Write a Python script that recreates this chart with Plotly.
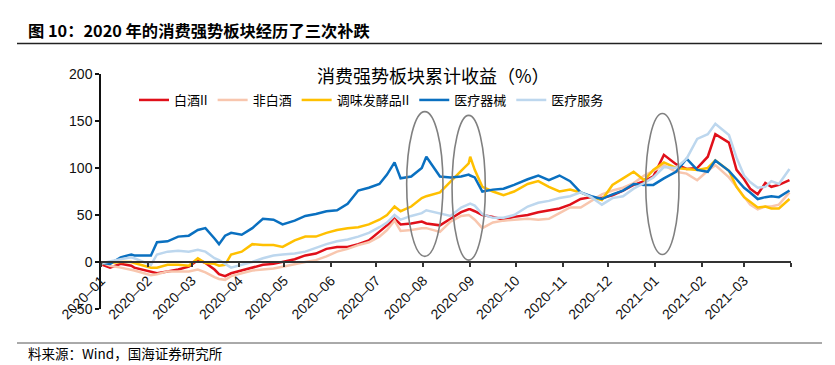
import plotly.graph_objects as go

# ---------------- data ----------------
dates = [
    "2020-01-02", "2020-01-07", "2020-01-14", "2020-01-21", "2020-01-23",
    "2020-02-03", "2020-02-07", "2020-02-14", "2020-02-21", "2020-02-28",
    "2020-03-05", "2020-03-10", "2020-03-16", "2020-03-19", "2020-03-23",
    "2020-03-27", "2020-04-03", "2020-04-10", "2020-04-17", "2020-04-24",
    "2020-04-30", "2020-05-08", "2020-05-15", "2020-05-22", "2020-05-29",
    "2020-06-05", "2020-06-12", "2020-06-19", "2020-06-26", "2020-07-03",
    "2020-07-08", "2020-07-13", "2020-07-17", "2020-07-24", "2020-07-31",
    "2020-08-03", "2020-08-12", "2020-08-19", "2020-08-26", "2020-08-31",
    "2020-09-01", "2020-09-04", "2020-09-09", "2020-09-16", "2020-09-23",
    "2020-09-30", "2020-10-09", "2020-10-16", "2020-10-23", "2020-10-30",
    "2020-11-06", "2020-11-13", "2020-11-20", "2020-11-27", "2020-12-04",
    "2020-12-11", "2020-12-18", "2020-12-25", "2020-12-31", "2021-01-07",
    "2021-01-15", "2021-01-22", "2021-01-29", "2021-02-05", "2021-02-10",
    "2021-02-19", "2021-02-24", "2021-03-01", "2021-03-05", "2021-03-10",
    "2021-03-15", "2021-03-19", "2021-03-24", "2021-03-31",
]

baijiu = [
    -3, -6, -2, -4, -6, -11, -12, -10, -8, -5,
    2, -1, -8, -13, -15, -12, -9, -6, -3, -2,
    0, 3, 7, 9, 14, 16, 16, 19, 23, 32,
    39, 46, 40, 41, 43, 41, 39, 46, 53, 56,
    56, 54, 50, 48, 45, 48, 50, 53, 55, 57,
    61, 67, 69, 68, 71, 76, 82, 86, 91, 114,
    104, 99, 100, 112, 136, 127, 98, 88, 78, 72,
    84, 80, 82, 87,
]

fei_baijiu = [
    -1, -4, -6, -8, -9, -14, -13, -10, -10, -10,
    -8, -11, -16, -18, -19, -15, -12, -9, -8, -7,
    -5, -2, 0, 2, 6, 11, 14, 18, 21, 27,
    34, 44, 33, 34, 36, 36, 32, 43, 49, 50,
    49, 45, 36, 42, 44, 45, 46, 45, 46, 52,
    58, 58, 65, 72, 76, 79, 84, 92, 97, 103,
    96, 94, 87, 97, 103, 90, 80, 70, 61, 56,
    59, 59, 61, 74,
]

tiaowei = [
    -1, -1, 0, 0, -1, -6, -6, -3, -3, -4,
    4, -1, -2, -4, -3, 8, 11, 19, 18, 18,
    16, 23, 27, 27, 31, 34, 36, 37, 40, 45,
    50, 59, 54, 59, 68, 70, 74, 85, 97, 105,
    112, 98, 80, 75, 71, 75, 83, 86, 80, 75,
    77, 74, 69, 66, 82, 89, 96, 87, 98, 106,
    100, 99, 98, 100, 108, 97, 80, 69, 64, 58,
    59, 57, 57, 67,
]

yiliao_qixie = [
    -1, -2, 5, 8, 7, 7, 21, 22, 27, 28,
    34, 36, 25, 19, 28, 31, 29, 36, 46, 45,
    40, 44, 49, 51, 54, 55, 62, 76, 79, 83,
    93, 106, 89, 91, 100, 112, 91, 90, 91, 93,
    92, 90, 75, 77, 78, 82, 88, 92, 87, 92,
    86, 74, 70, 67, 72, 76, 83, 82, 82, 89,
    96, 110, 98, 96, 108, 97, 88, 79, 74, 67,
    69, 70, 69, 76,
]

yiliao_fuwu = [
    -1, 1, 3, 5, 4, -3, 8, 11, 12, 11,
    13, 11, 4, 2, -2, -6, -3, 0, 4, 7,
    8, 9, 11, 15, 19, 22, 24, 27, 31, 37,
    42, 50, 45, 49, 52, 55, 52, 49, 58, 61,
    62, 60, 51, 47, 47, 50, 59, 63, 65, 68,
    70, 74, 69, 61, 68, 70, 78, 84, 90, 101,
    100, 110, 131, 136, 147, 135, 111, 92, 85, 79,
    80, 86, 83, 99,
]

series_names = ["白酒II", "非白酒", "调味发酵品II", "医疗器械", "医疗服务"]
series_values = [baijiu, fei_baijiu, tiaowei, yiliao_qixie, yiliao_fuwu]
series_colors = ["#E0101A", "#F8C6AE", "#FFC000", "#0A70C0", "#BDD7EE"]

tick_vals = [
    "2020-01-01", "2020-02-01", "2020-03-01", "2020-04-01", "2020-05-01",
    "2020-06-01", "2020-07-01", "2020-08-01", "2020-09-01", "2020-10-01",
    "2020-11-01", "2020-12-01", "2021-01-01", "2021-02-01", "2021-03-01",
    "2021-04-01",
]
tick_text = [
    "2020–01", "2020–02", "2020–03", "2020–04", "2020–05", "2020–06",
    "2020–07", "2020–08", "2020–09", "2020–10", "2020–11", "2020–12",
    "2021–01", "2021–02", "2021–03", "",
]
y_ticks = [-50, 0, 50, 100, 150, 200]

# highlighted periods (ellipses), in data units
hl_x0 = ["2020-07-21", "2020-08-20", "2020-12-26"]
hl_x1 = ["2020-08-14", "2020-09-11", "2021-01-17"]
hl_y0 = [6, 2, 8]
hl_y1 = [160, 156, 158]

title_text = "图 10：2020 年的消费强势板块经历了三次补跌"
chart_title = "消费强势板块累计收益（%）"
source_text = "料来源：Wind，国海证券研究所"

# ---------------- layout helpers ----------------
W, H = 835, 365
L, R, T, B = 101, 791, 74, 309


def px_x(px):
    return (px - L) / (R - L)


def px_y(py):
    return (B - py) / (B - T)


CJK = "Noto Sans CJK SC, sans-serif"
NUM = "Arial, Liberation Sans, sans-serif"

fig = go.Figure()
for name, vals, col in zip(series_names, series_values, series_colors):
    fig.add_trace(go.Scatter(
        x=dates, y=vals, name=name, mode="lines",
        line=dict(color=col, width=2.5),
    ))

shapes = []
for x0, x1, y0, y1 in zip(hl_x0, hl_x1, hl_y0, hl_y1):
    shapes.append(dict(type="circle", xref="x", yref="y", x0=x0, x1=x1,
                       y0=y0, y1=y1, line=dict(color="#808080", width=1.6)))
# header rule and footer rule
shapes.append(dict(type="line", xref="paper", yref="paper",
                   x0=px_x(17), x1=px_x(822), y0=px_y(43.5), y1=px_y(43.5),
                   line=dict(color="#222222", width=1.5)))
shapes.append(dict(type="line", xref="paper", yref="paper",
                   x0=px_x(17), x1=px_x(822), y0=px_y(343), y1=px_y(343),
                   line=dict(color="#555555", width=1)))

annotations = [
    dict(text="<b>" + title_text + "</b>", xref="paper", yref="paper",
         x=px_x(26), y=px_y(30), xanchor="left", yanchor="middle",
         showarrow=False, font=dict(family=CJK, size=16.3, color="#000000")),
    dict(text=chart_title, xref="paper", yref="paper",
         x=px_x(433), y=px_y(75), xanchor="center", yanchor="middle",
         showarrow=False, font=dict(family=CJK, size=18, color="#000000")),
    dict(text=source_text, xref="paper", yref="paper",
         x=px_x(26), y=px_y(353), xanchor="left", yanchor="middle",
         showarrow=False, font=dict(family=CJK, size=13.5, color="#000000")),
]

fig.update_layout(
    width=W, height=H, autosize=False,
    margin=dict(l=L, r=W - R, t=T, b=H - B, pad=0),
    paper_bgcolor="white", plot_bgcolor="white",
    showlegend=True,
    legend=dict(orientation="h", x=px_x(134), y=px_y(100),
                xanchor="left", yanchor="middle",
                font=dict(family=CJK, size=13, color="#000000"),
                bgcolor="rgba(0,0,0,0)", itemwidth=30, tracegroupgap=0),
    shapes=shapes,
    annotations=annotations,
    xaxis=dict(
        type="date", range=["2020-01-01", "2021-04-01"],
        tickmode="array", tickvals=tick_vals, ticktext=tick_text,
        tickangle=-45, ticks="outside", ticklen=4, tickwidth=1.5,
        tickcolor="#333333",
        showline=True, linecolor="#333333", linewidth=2,
        showgrid=False, zeroline=False,
        anchor="free", position=0.2,
        tickfont=dict(family=NUM, size=14, color="#111111"),
    ),
    yaxis=dict(
        range=[-50, 200], tickmode="array", tickvals=y_ticks,
        ticks="outside", ticklen=4, tickwidth=1.5, tickcolor="#111111",
        showline=True, linecolor="#111111", linewidth=1.5,
        showgrid=False, zeroline=False,
        tickfont=dict(family=NUM, size=14, color="#111111"),
    ),
)

fig.write_html(
    "out.html",
    config={"displayModeBar": False},
    post_script="document.body.style.margin='0';"
                "document.body.style.overflow='hidden';",
)
